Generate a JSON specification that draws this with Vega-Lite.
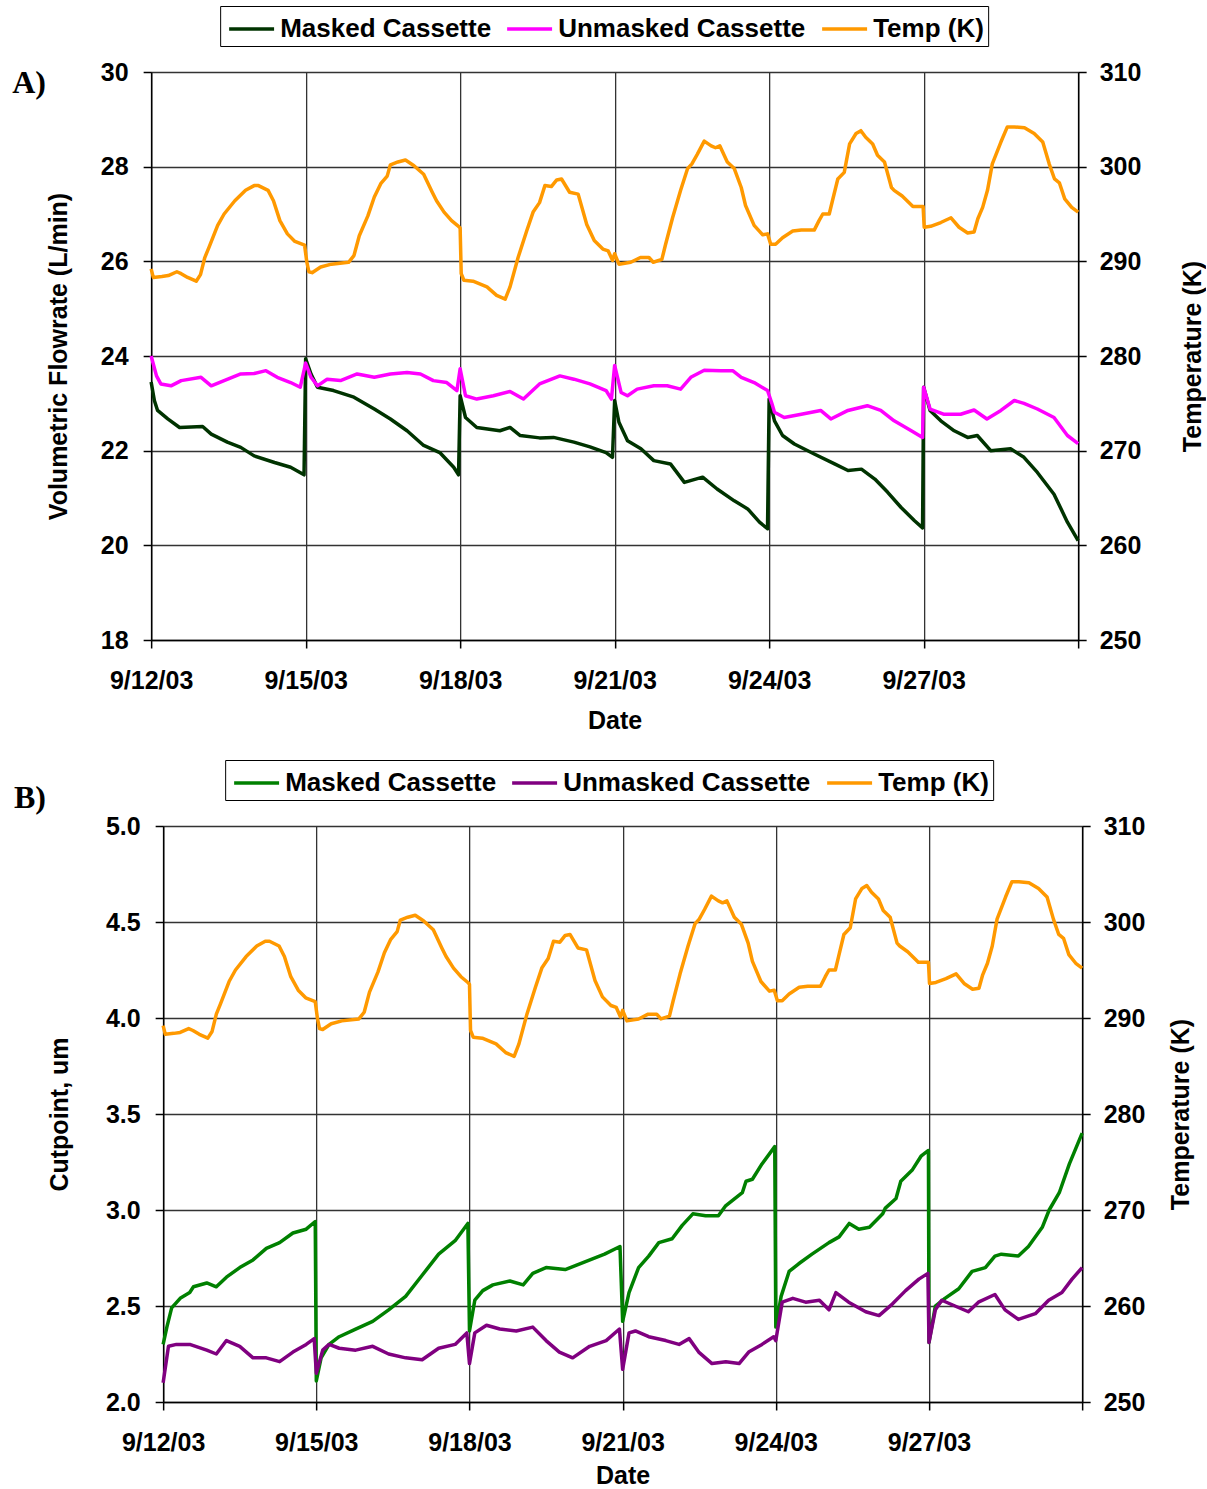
{
  "$schema": "https://vega.github.io/schema/vega-lite/v6.json",
  "padding": {"left": 12, "top": 5, "right": 0, "bottom": 0},
  "background": "white",
  "columns": 1,
  "center": true,
  "spacing": 26,
  "resolve": {"scale": {"color": "independent"}},
  "config": {
    "view": {"stroke": null},
    "axis": {
      "labelFont": "Liberation Sans", "labelFontWeight": "bold", "labelFontSize": 25, "labelColor": "black",
      "titleFont": "Liberation Sans", "titleFontWeight": "bold", "titleFontSize": 25, "titleColor": "black",
      "domainColor": "black", "domainWidth": 1.5, "tickColor": "black", "tickWidth": 1.5, "tickSize": 8,
      "gridColor": "#333333", "gridWidth": 1.3, "gridOpacity": 1
    },
    "legend": {
      "orient": "none", "direction": "horizontal", "title": null,
      "symbolType": "M-0.824,0H1.82", "symbolSize": 1156, "symbolStrokeWidth": 3.5,
      "labelFont": "Liberation Sans", "labelFontWeight": "bold", "labelFontSize": 26, "labelColor": "black", "labelLimit": 500,
      "strokeColor": "black", "fillColor": "white", "padding": 4, "columnPadding": 11, "labelOffset": 18
    },
    "line": {"strokeWidth": 3.5, "strokeJoin": "round"}
  },
  "datasets": {
    "temp": [
      {"s":"Temp (K)","t":"2003-09-12T00:00","v":289.2},{"s":"Temp (K)","t":"2003-09-12T01:00","v":288.3},{"s":"Temp (K)","t":"2003-09-12T05:00","v":288.4},{"s":"Temp (K)","t":"2003-09-12T08:00","v":288.5},{"s":"Temp (K)","t":"2003-09-12T12:00","v":288.9},{"s":"Temp (K)","t":"2003-09-12T14:00","v":288.7},{"s":"Temp (K)","t":"2003-09-12T17:00","v":288.3},{"s":"Temp (K)","t":"2003-09-12T21:00","v":287.9},{"s":"Temp (K)","t":"2003-09-12T23:00","v":288.6},
      {"s":"Temp (K)","t":"2003-09-13T01:00","v":290.4},{"s":"Temp (K)","t":"2003-09-13T03:00","v":291.5},{"s":"Temp (K)","t":"2003-09-13T07:00","v":293.8},{"s":"Temp (K)","t":"2003-09-13T10:00","v":295.0},{"s":"Temp (K)","t":"2003-09-13T15:00","v":296.4},{"s":"Temp (K)","t":"2003-09-13T20:00","v":297.5},
      {"s":"Temp (K)","t":"2003-09-14T00:00","v":298.0},{"s":"Temp (K)","t":"2003-09-14T02:00","v":298.0},{"s":"Temp (K)","t":"2003-09-14T06:30","v":297.5},{"s":"Temp (K)","t":"2003-09-14T09:00","v":296.4},{"s":"Temp (K)","t":"2003-09-14T12:00","v":294.3},{"s":"Temp (K)","t":"2003-09-14T15:30","v":292.9},{"s":"Temp (K)","t":"2003-09-14T19:00","v":292.1},{"s":"Temp (K)","t":"2003-09-14T23:30","v":291.7},
      {"s":"Temp (K)","t":"2003-09-15T00:30","v":290.0},{"s":"Temp (K)","t":"2003-09-15T01:30","v":288.9},{"s":"Temp (K)","t":"2003-09-15T03:00","v":288.8},{"s":"Temp (K)","t":"2003-09-15T07:00","v":289.4},{"s":"Temp (K)","t":"2003-09-15T12:00","v":289.7},{"s":"Temp (K)","t":"2003-09-15T20:00","v":289.9},{"s":"Temp (K)","t":"2003-09-15T22:30","v":290.6},
      {"s":"Temp (K)","t":"2003-09-16T01:00","v":292.7},{"s":"Temp (K)","t":"2003-09-16T05:00","v":294.8},{"s":"Temp (K)","t":"2003-09-16T08:00","v":296.8},{"s":"Temp (K)","t":"2003-09-16T11:00","v":298.2},{"s":"Temp (K)","t":"2003-09-16T14:00","v":299.0},{"s":"Temp (K)","t":"2003-09-16T15:30","v":300.2},{"s":"Temp (K)","t":"2003-09-16T19:00","v":300.5},{"s":"Temp (K)","t":"2003-09-16T22:30","v":300.7},
      {"s":"Temp (K)","t":"2003-09-17T02:30","v":300.1},{"s":"Temp (K)","t":"2003-09-17T07:00","v":299.2},{"s":"Temp (K)","t":"2003-09-17T11:00","v":297.3},{"s":"Temp (K)","t":"2003-09-17T13:00","v":296.4},{"s":"Temp (K)","t":"2003-09-17T16:30","v":295.2},{"s":"Temp (K)","t":"2003-09-17T20:00","v":294.3},{"s":"Temp (K)","t":"2003-09-17T23:15","v":293.7},
      {"s":"Temp (K)","t":"2003-09-18T00:00","v":293.5},{"s":"Temp (K)","t":"2003-09-18T00:30","v":288.7},{"s":"Temp (K)","t":"2003-09-18T01:45","v":288.0},{"s":"Temp (K)","t":"2003-09-18T06:00","v":287.9},{"s":"Temp (K)","t":"2003-09-18T12:30","v":287.3},{"s":"Temp (K)","t":"2003-09-18T17:00","v":286.4},{"s":"Temp (K)","t":"2003-09-18T21:00","v":286.0},{"s":"Temp (K)","t":"2003-09-18T23:15","v":287.3},
      {"s":"Temp (K)","t":"2003-09-19T03:00","v":290.4},{"s":"Temp (K)","t":"2003-09-19T07:00","v":293.2},{"s":"Temp (K)","t":"2003-09-19T10:00","v":295.2},{"s":"Temp (K)","t":"2003-09-19T13:00","v":296.2},{"s":"Temp (K)","t":"2003-09-19T15:30","v":298.0},{"s":"Temp (K)","t":"2003-09-19T18:30","v":297.9},{"s":"Temp (K)","t":"2003-09-19T21:00","v":298.6},{"s":"Temp (K)","t":"2003-09-19T23:15","v":298.7},
      {"s":"Temp (K)","t":"2003-09-20T03:00","v":297.3},{"s":"Temp (K)","t":"2003-09-20T07:00","v":297.1},{"s":"Temp (K)","t":"2003-09-20T11:00","v":293.9},{"s":"Temp (K)","t":"2003-09-20T14:30","v":292.2},{"s":"Temp (K)","t":"2003-09-20T18:30","v":291.3},{"s":"Temp (K)","t":"2003-09-20T21:00","v":291.1},{"s":"Temp (K)","t":"2003-09-20T23:00","v":290.1},
      {"s":"Temp (K)","t":"2003-09-21T00:00","v":290.8},{"s":"Temp (K)","t":"2003-09-21T02:00","v":289.7},{"s":"Temp (K)","t":"2003-09-21T07:30","v":289.9},{"s":"Temp (K)","t":"2003-09-21T12:00","v":290.4},{"s":"Temp (K)","t":"2003-09-21T16:00","v":290.4},{"s":"Temp (K)","t":"2003-09-21T18:00","v":289.9},{"s":"Temp (K)","t":"2003-09-21T22:00","v":290.2},{"s":"Temp (K)","t":"2003-09-21T23:45","v":291.8},
      {"s":"Temp (K)","t":"2003-09-22T03:00","v":294.6},{"s":"Temp (K)","t":"2003-09-22T06:45","v":297.5},{"s":"Temp (K)","t":"2003-09-22T10:00","v":299.8},{"s":"Temp (K)","t":"2003-09-22T12:00","v":300.3},{"s":"Temp (K)","t":"2003-09-22T14:30","v":301.3},{"s":"Temp (K)","t":"2003-09-22T17:45","v":302.7},{"s":"Temp (K)","t":"2003-09-22T21:00","v":302.2},{"s":"Temp (K)","t":"2003-09-22T23:00","v":302.0},
      {"s":"Temp (K)","t":"2003-09-23T01:00","v":302.2},{"s":"Temp (K)","t":"2003-09-23T04:30","v":300.5},{"s":"Temp (K)","t":"2003-09-23T07:45","v":299.8},{"s":"Temp (K)","t":"2003-09-23T11:00","v":297.8},{"s":"Temp (K)","t":"2003-09-23T13:00","v":295.9},{"s":"Temp (K)","t":"2003-09-23T17:00","v":293.8},{"s":"Temp (K)","t":"2003-09-23T21:00","v":292.8},{"s":"Temp (K)","t":"2003-09-23T23:15","v":292.9},
      {"s":"Temp (K)","t":"2003-09-24T00:45","v":291.8},{"s":"Temp (K)","t":"2003-09-24T03:00","v":291.8},{"s":"Temp (K)","t":"2003-09-24T06:15","v":292.5},{"s":"Temp (K)","t":"2003-09-24T11:00","v":293.2},{"s":"Temp (K)","t":"2003-09-24T15:00","v":293.3},{"s":"Temp (K)","t":"2003-09-24T21:00","v":293.3},{"s":"Temp (K)","t":"2003-09-24T23:15","v":294.3},
      {"s":"Temp (K)","t":"2003-09-25T01:00","v":295.0},{"s":"Temp (K)","t":"2003-09-25T04:00","v":295.0},{"s":"Temp (K)","t":"2003-09-25T05:30","v":296.4},{"s":"Temp (K)","t":"2003-09-25T08:00","v":298.7},{"s":"Temp (K)","t":"2003-09-25T11:00","v":299.4},{"s":"Temp (K)","t":"2003-09-25T13:30","v":302.4},{"s":"Temp (K)","t":"2003-09-25T16:30","v":303.5},{"s":"Temp (K)","t":"2003-09-25T18:45","v":303.8},{"s":"Temp (K)","t":"2003-09-25T21:00","v":303.1},
      {"s":"Temp (K)","t":"2003-09-26T00:15","v":302.4},{"s":"Temp (K)","t":"2003-09-26T02:30","v":301.2},{"s":"Temp (K)","t":"2003-09-26T05:45","v":300.5},{"s":"Temp (K)","t":"2003-09-26T09:00","v":297.8},{"s":"Temp (K)","t":"2003-09-26T10:15","v":297.5},{"s":"Temp (K)","t":"2003-09-26T14:00","v":296.9},{"s":"Temp (K)","t":"2003-09-26T19:00","v":295.8},{"s":"Temp (K)","t":"2003-09-26T23:45","v":295.8},
      {"s":"Temp (K)","t":"2003-09-27T00:15","v":293.6},{"s":"Temp (K)","t":"2003-09-27T03:15","v":293.7},{"s":"Temp (K)","t":"2003-09-27T08:00","v":294.1},{"s":"Temp (K)","t":"2003-09-27T12:45","v":294.6},{"s":"Temp (K)","t":"2003-09-27T16:30","v":293.6},{"s":"Temp (K)","t":"2003-09-27T20:30","v":293.0},{"s":"Temp (K)","t":"2003-09-27T23:30","v":293.1},
      {"s":"Temp (K)","t":"2003-09-28T01:15","v":294.5},{"s":"Temp (K)","t":"2003-09-28T03:30","v":295.7},{"s":"Temp (K)","t":"2003-09-28T05:45","v":297.5},{"s":"Temp (K)","t":"2003-09-28T08:00","v":300.3},{"s":"Temp (K)","t":"2003-09-28T12:00","v":302.6},{"s":"Temp (K)","t":"2003-09-28T15:00","v":304.2},{"s":"Temp (K)","t":"2003-09-28T18:15","v":304.2},{"s":"Temp (K)","t":"2003-09-28T23:00","v":304.1},
      {"s":"Temp (K)","t":"2003-09-29T03:30","v":303.5},{"s":"Temp (K)","t":"2003-09-29T07:30","v":302.6},{"s":"Temp (K)","t":"2003-09-29T10:30","v":300.3},{"s":"Temp (K)","t":"2003-09-29T13:00","v":298.7},{"s":"Temp (K)","t":"2003-09-29T15:15","v":298.3},{"s":"Temp (K)","t":"2003-09-29T17:45","v":296.6},{"s":"Temp (K)","t":"2003-09-29T21:00","v":295.7},{"s":"Temp (K)","t":"2003-09-30T00:00","v":295.2}
    ],
    "flow": [
      {"s":"Masked Cassette","t":"2003-09-12T00:00","v":23.45},{"s":"Masked Cassette","t":"2003-09-12T01:30","v":23.06},{"s":"Masked Cassette","t":"2003-09-12T03:00","v":22.85},{"s":"Masked Cassette","t":"2003-09-12T07:45","v":22.67},{"s":"Masked Cassette","t":"2003-09-12T13:15","v":22.49},
      {"s":"Masked Cassette","t":"2003-09-13T00:00","v":22.51},{"s":"Masked Cassette","t":"2003-09-13T04:00","v":22.35},{"s":"Masked Cassette","t":"2003-09-13T11:30","v":22.18},{"s":"Masked Cassette","t":"2003-09-13T17:45","v":22.07},
      {"s":"Masked Cassette","t":"2003-09-14T00:00","v":21.89},{"s":"Masked Cassette","t":"2003-09-14T09:30","v":21.75},{"s":"Masked Cassette","t":"2003-09-14T17:00","v":21.65},{"s":"Masked Cassette","t":"2003-09-14T23:15","v":21.49},
      {"s":"Masked Cassette","t":"2003-09-15T00:00","v":23.94},{"s":"Masked Cassette","t":"2003-09-15T02:30","v":23.62},{"s":"Masked Cassette","t":"2003-09-15T05:30","v":23.34},{"s":"Masked Cassette","t":"2003-09-15T13:00","v":23.27},{"s":"Masked Cassette","t":"2003-09-15T22:30","v":23.13},
      {"s":"Masked Cassette","t":"2003-09-16T08:00","v":22.88},{"s":"Masked Cassette","t":"2003-09-16T15:30","v":22.67},{"s":"Masked Cassette","t":"2003-09-16T23:15","v":22.42},
      {"s":"Masked Cassette","t":"2003-09-17T07:00","v":22.11},{"s":"Masked Cassette","t":"2003-09-17T14:30","v":21.96},{"s":"Masked Cassette","t":"2003-09-17T21:00","v":21.65},{"s":"Masked Cassette","t":"2003-09-17T23:15","v":21.49},
      {"s":"Masked Cassette","t":"2003-09-18T00:00","v":23.16},{"s":"Masked Cassette","t":"2003-09-18T02:30","v":22.70},{"s":"Masked Cassette","t":"2003-09-18T07:45","v":22.49},{"s":"Masked Cassette","t":"2003-09-18T18:30","v":22.42},{"s":"Masked Cassette","t":"2003-09-18T23:15","v":22.49},
      {"s":"Masked Cassette","t":"2003-09-19T04:00","v":22.32},{"s":"Masked Cassette","t":"2003-09-19T13:00","v":22.27},{"s":"Masked Cassette","t":"2003-09-19T19:30","v":22.28},
      {"s":"Masked Cassette","t":"2003-09-20T05:00","v":22.18},{"s":"Masked Cassette","t":"2003-09-20T12:30","v":22.08},{"s":"Masked Cassette","t":"2003-09-20T20:00","v":21.96},{"s":"Masked Cassette","t":"2003-09-20T23:00","v":21.86},
      {"s":"Masked Cassette","t":"2003-09-21T00:00","v":23.06},{"s":"Masked Cassette","t":"2003-09-21T02:00","v":22.60},{"s":"Masked Cassette","t":"2003-09-21T06:00","v":22.21},{"s":"Masked Cassette","t":"2003-09-21T12:15","v":22.04},{"s":"Masked Cassette","t":"2003-09-21T18:15","v":21.79},
      {"s":"Masked Cassette","t":"2003-09-22T02:00","v":21.72},{"s":"Masked Cassette","t":"2003-09-22T08:30","v":21.33},{"s":"Masked Cassette","t":"2003-09-22T17:00","v":21.44},{"s":"Masked Cassette","t":"2003-09-22T23:45","v":21.19},
      {"s":"Masked Cassette","t":"2003-09-23T07:45","v":20.94},{"s":"Masked Cassette","t":"2003-09-23T14:00","v":20.77},{"s":"Masked Cassette","t":"2003-09-23T19:30","v":20.49},{"s":"Masked Cassette","t":"2003-09-23T23:15","v":20.35},
      {"s":"Masked Cassette","t":"2003-09-24T00:00","v":23.09},{"s":"Masked Cassette","t":"2003-09-24T02:30","v":22.63},{"s":"Masked Cassette","t":"2003-09-24T06:15","v":22.32},{"s":"Masked Cassette","t":"2003-09-24T11:45","v":22.14},{"s":"Masked Cassette","t":"2003-09-24T21:00","v":21.93},
      {"s":"Masked Cassette","t":"2003-09-25T06:30","v":21.72},{"s":"Masked Cassette","t":"2003-09-25T12:45","v":21.58},{"s":"Masked Cassette","t":"2003-09-25T19:00","v":21.61},
      {"s":"Masked Cassette","t":"2003-09-26T01:15","v":21.40},{"s":"Masked Cassette","t":"2003-09-26T07:15","v":21.12},{"s":"Masked Cassette","t":"2003-09-26T13:30","v":20.80},{"s":"Masked Cassette","t":"2003-09-26T19:45","v":20.52},{"s":"Masked Cassette","t":"2003-09-26T23:30","v":20.37},
      {"s":"Masked Cassette","t":"2003-09-27T00:00","v":23.34},{"s":"Masked Cassette","t":"2003-09-27T03:00","v":22.85},{"s":"Masked Cassette","t":"2003-09-27T08:00","v":22.63},{"s":"Masked Cassette","t":"2003-09-27T14:15","v":22.42},{"s":"Masked Cassette","t":"2003-09-27T20:30","v":22.28},
      {"s":"Masked Cassette","t":"2003-09-28T01:00","v":22.32},{"s":"Masked Cassette","t":"2003-09-28T07:15","v":22.00},{"s":"Masked Cassette","t":"2003-09-28T16:30","v":22.04},{"s":"Masked Cassette","t":"2003-09-28T22:45","v":21.86},
      {"s":"Masked Cassette","t":"2003-09-29T05:00","v":21.54},{"s":"Masked Cassette","t":"2003-09-29T12:45","v":21.08},{"s":"Masked Cassette","t":"2003-09-29T19:00","v":20.49},{"s":"Masked Cassette","t":"2003-09-30T00:00","v":20.10},

      {"s":"Unmasked Cassette","t":"2003-09-12T00:00","v":24.0},{"s":"Unmasked Cassette","t":"2003-09-12T02:30","v":23.58},{"s":"Unmasked Cassette","t":"2003-09-12T04:30","v":23.41},{"s":"Unmasked Cassette","t":"2003-09-12T09:15","v":23.37},{"s":"Unmasked Cassette","t":"2003-09-12T14:00","v":23.48},{"s":"Unmasked Cassette","t":"2003-09-12T23:15","v":23.55},
      {"s":"Unmasked Cassette","t":"2003-09-13T04:00","v":23.37},{"s":"Unmasked Cassette","t":"2003-09-13T10:00","v":23.48},{"s":"Unmasked Cassette","t":"2003-09-13T17:45","v":23.62},
      {"s":"Unmasked Cassette","t":"2003-09-14T00:00","v":23.63},{"s":"Unmasked Cassette","t":"2003-09-14T05:30","v":23.69},{"s":"Unmasked Cassette","t":"2003-09-14T10:45","v":23.55},{"s":"Unmasked Cassette","t":"2003-09-14T17:00","v":23.44},{"s":"Unmasked Cassette","t":"2003-09-14T21:30","v":23.34},
      {"s":"Unmasked Cassette","t":"2003-09-15T00:00","v":23.85},{"s":"Unmasked Cassette","t":"2003-09-15T02:30","v":23.55},{"s":"Unmasked Cassette","t":"2003-09-15T05:30","v":23.37},{"s":"Unmasked Cassette","t":"2003-09-15T10:00","v":23.51},{"s":"Unmasked Cassette","t":"2003-09-15T16:15","v":23.48},
      {"s":"Unmasked Cassette","t":"2003-09-16T00:00","v":23.62},{"s":"Unmasked Cassette","t":"2003-09-16T08:00","v":23.55},{"s":"Unmasked Cassette","t":"2003-09-16T15:30","v":23.62},{"s":"Unmasked Cassette","t":"2003-09-16T23:15","v":23.65},
      {"s":"Unmasked Cassette","t":"2003-09-17T05:30","v":23.62},{"s":"Unmasked Cassette","t":"2003-09-17T11:30","v":23.48},{"s":"Unmasked Cassette","t":"2003-09-17T17:45","v":23.44},{"s":"Unmasked Cassette","t":"2003-09-17T22:30","v":23.27},
      {"s":"Unmasked Cassette","t":"2003-09-18T00:00","v":23.73},{"s":"Unmasked Cassette","t":"2003-09-18T02:30","v":23.16},{"s":"Unmasked Cassette","t":"2003-09-18T07:45","v":23.09},{"s":"Unmasked Cassette","t":"2003-09-18T15:30","v":23.16},{"s":"Unmasked Cassette","t":"2003-09-18T23:15","v":23.25},
      {"s":"Unmasked Cassette","t":"2003-09-19T05:30","v":23.09},{"s":"Unmasked Cassette","t":"2003-09-19T13:00","v":23.41},{"s":"Unmasked Cassette","t":"2003-09-19T22:30","v":23.58},
      {"s":"Unmasked Cassette","t":"2003-09-20T05:00","v":23.51},{"s":"Unmasked Cassette","t":"2003-09-20T12:30","v":23.41},{"s":"Unmasked Cassette","t":"2003-09-20T20:00","v":23.27},{"s":"Unmasked Cassette","t":"2003-09-20T22:30","v":23.09},
      {"s":"Unmasked Cassette","t":"2003-09-21T00:00","v":23.80},{"s":"Unmasked Cassette","t":"2003-09-21T03:00","v":23.23},{"s":"Unmasked Cassette","t":"2003-09-21T06:00","v":23.16},{"s":"Unmasked Cassette","t":"2003-09-21T10:30","v":23.30},{"s":"Unmasked Cassette","t":"2003-09-21T18:15","v":23.37},
      {"s":"Unmasked Cassette","t":"2003-09-22T00:30","v":23.37},{"s":"Unmasked Cassette","t":"2003-09-22T06:45","v":23.30},{"s":"Unmasked Cassette","t":"2003-09-22T11:30","v":23.55},{"s":"Unmasked Cassette","t":"2003-09-22T17:45","v":23.70},
      {"s":"Unmasked Cassette","t":"2003-09-23T01:30","v":23.69},{"s":"Unmasked Cassette","t":"2003-09-23T07:00","v":23.69},{"s":"Unmasked Cassette","t":"2003-09-23T11:00","v":23.55},{"s":"Unmasked Cassette","t":"2003-09-23T17:00","v":23.44},{"s":"Unmasked Cassette","t":"2003-09-23T23:15","v":23.27},
      {"s":"Unmasked Cassette","t":"2003-09-24T01:15","v":23.0},{"s":"Unmasked Cassette","t":"2003-09-24T02:30","v":22.81},{"s":"Unmasked Cassette","t":"2003-09-24T07:00","v":22.70},{"s":"Unmasked Cassette","t":"2003-09-24T15:00","v":22.77},
      {"s":"Unmasked Cassette","t":"2003-09-25T00:00","v":22.85},{"s":"Unmasked Cassette","t":"2003-09-25T04:45","v":22.67},{"s":"Unmasked Cassette","t":"2003-09-25T12:45","v":22.85},{"s":"Unmasked Cassette","t":"2003-09-25T21:45","v":22.95},
      {"s":"Unmasked Cassette","t":"2003-09-26T04:00","v":22.85},{"s":"Unmasked Cassette","t":"2003-09-26T10:15","v":22.63},{"s":"Unmasked Cassette","t":"2003-09-26T18:15","v":22.42},{"s":"Unmasked Cassette","t":"2003-09-26T23:30","v":22.28},
      {"s":"Unmasked Cassette","t":"2003-09-27T00:00","v":23.34},{"s":"Unmasked Cassette","t":"2003-09-27T03:00","v":22.88},{"s":"Unmasked Cassette","t":"2003-09-27T09:15","v":22.77},{"s":"Unmasked Cassette","t":"2003-09-27T17:15","v":22.77},{"s":"Unmasked Cassette","t":"2003-09-27T23:30","v":22.86},
      {"s":"Unmasked Cassette","t":"2003-09-28T05:30","v":22.67},{"s":"Unmasked Cassette","t":"2003-09-28T12:00","v":22.85},{"s":"Unmasked Cassette","t":"2003-09-28T18:15","v":23.06},{"s":"Unmasked Cassette","t":"2003-09-28T22:45","v":23.0},
      {"s":"Unmasked Cassette","t":"2003-09-29T05:00","v":22.88},{"s":"Unmasked Cassette","t":"2003-09-29T12:45","v":22.70},{"s":"Unmasked Cassette","t":"2003-09-29T19:00","v":22.32},{"s":"Unmasked Cassette","t":"2003-09-30T00:00","v":22.15}
    ],
    "cut": [
      {"s":"Masked Cassette","t":"2003-09-12T00:00","v":2.30},{"s":"Masked Cassette","t":"2003-09-12T01:45","v":2.39},{"s":"Masked Cassette","t":"2003-09-12T04:00","v":2.49},{"s":"Masked Cassette","t":"2003-09-12T08:00","v":2.54},{"s":"Masked Cassette","t":"2003-09-12T12:30","v":2.57},{"s":"Masked Cassette","t":"2003-09-12T14:15","v":2.60},{"s":"Masked Cassette","t":"2003-09-12T20:30","v":2.62},
      {"s":"Masked Cassette","t":"2003-09-13T01:00","v":2.60},{"s":"Masked Cassette","t":"2003-09-13T05:45","v":2.65},{"s":"Masked Cassette","t":"2003-09-13T12:00","v":2.70},{"s":"Masked Cassette","t":"2003-09-13T18:15","v":2.74},
      {"s":"Masked Cassette","t":"2003-09-14T00:30","v":2.80},{"s":"Masked Cassette","t":"2003-09-14T06:45","v":2.83},{"s":"Masked Cassette","t":"2003-09-14T13:00","v":2.88},{"s":"Masked Cassette","t":"2003-09-14T19:15","v":2.90},{"s":"Masked Cassette","t":"2003-09-14T23:30","v":2.94},
      {"s":"Masked Cassette","t":"2003-09-15T00:00","v":2.11},{"s":"Masked Cassette","t":"2003-09-15T02:15","v":2.23},{"s":"Masked Cassette","t":"2003-09-15T06:00","v":2.30},{"s":"Masked Cassette","t":"2003-09-15T10:45","v":2.34},{"s":"Masked Cassette","t":"2003-09-15T18:30","v":2.38},
      {"s":"Masked Cassette","t":"2003-09-16T02:30","v":2.42},{"s":"Masked Cassette","t":"2003-09-16T10:00","v":2.48},{"s":"Masked Cassette","t":"2003-09-16T18:00","v":2.55},
      {"s":"Masked Cassette","t":"2003-09-17T01:45","v":2.66},{"s":"Masked Cassette","t":"2003-09-17T09:30","v":2.77},{"s":"Masked Cassette","t":"2003-09-17T17:15","v":2.84},{"s":"Masked Cassette","t":"2003-09-17T21:15","v":2.90},{"s":"Masked Cassette","t":"2003-09-17T23:15","v":2.93},
      {"s":"Masked Cassette","t":"2003-09-18T00:00","v":2.37},{"s":"Masked Cassette","t":"2003-09-18T02:30","v":2.53},{"s":"Masked Cassette","t":"2003-09-18T06:15","v":2.58},{"s":"Masked Cassette","t":"2003-09-18T11:00","v":2.61},{"s":"Masked Cassette","t":"2003-09-18T19:00","v":2.63},
      {"s":"Masked Cassette","t":"2003-09-19T01:15","v":2.61},{"s":"Masked Cassette","t":"2003-09-19T05:45","v":2.67},{"s":"Masked Cassette","t":"2003-09-19T12:00","v":2.70},{"s":"Masked Cassette","t":"2003-09-19T21:00","v":2.69},
      {"s":"Masked Cassette","t":"2003-09-20T06:15","v":2.73},{"s":"Masked Cassette","t":"2003-09-20T15:30","v":2.77},{"s":"Masked Cassette","t":"2003-09-20T22:45","v":2.81},
      {"s":"Masked Cassette","t":"2003-09-21T00:00","v":2.42},{"s":"Masked Cassette","t":"2003-09-21T03:00","v":2.57},{"s":"Masked Cassette","t":"2003-09-21T07:30","v":2.70},{"s":"Masked Cassette","t":"2003-09-21T12:15","v":2.76},{"s":"Masked Cassette","t":"2003-09-21T17:00","v":2.83},{"s":"Masked Cassette","t":"2003-09-21T23:15","v":2.85},
      {"s":"Masked Cassette","t":"2003-09-22T04:00","v":2.92},{"s":"Masked Cassette","t":"2003-09-22T09:00","v":2.98},{"s":"Masked Cassette","t":"2003-09-22T15:00","v":2.97},{"s":"Masked Cassette","t":"2003-09-22T21:00","v":2.97},
      {"s":"Masked Cassette","t":"2003-09-23T00:15","v":3.02},{"s":"Masked Cassette","t":"2003-09-23T08:15","v":3.09},{"s":"Masked Cassette","t":"2003-09-23T10:00","v":3.15},{"s":"Masked Cassette","t":"2003-09-23T13:00","v":3.16},{"s":"Masked Cassette","t":"2003-09-23T17:30","v":3.24},{"s":"Masked Cassette","t":"2003-09-23T23:30","v":3.33},
      {"s":"Masked Cassette","t":"2003-09-24T00:00","v":2.39},{"s":"Masked Cassette","t":"2003-09-24T02:30","v":2.55},{"s":"Masked Cassette","t":"2003-09-24T06:15","v":2.68},{"s":"Masked Cassette","t":"2003-09-24T10:45","v":2.72},{"s":"Masked Cassette","t":"2003-09-24T17:00","v":2.77},
      {"s":"Masked Cassette","t":"2003-09-25T01:00","v":2.83},{"s":"Masked Cassette","t":"2003-09-25T05:45","v":2.86},{"s":"Masked Cassette","t":"2003-09-25T10:30","v":2.93},{"s":"Masked Cassette","t":"2003-09-25T15:00","v":2.90},{"s":"Masked Cassette","t":"2003-09-25T20:00","v":2.91},
      {"s":"Masked Cassette","t":"2003-09-26T02:15","v":2.98},{"s":"Masked Cassette","t":"2003-09-26T03:30","v":3.01},{"s":"Masked Cassette","t":"2003-09-26T08:30","v":3.06},{"s":"Masked Cassette","t":"2003-09-26T10:45","v":3.15},{"s":"Masked Cassette","t":"2003-09-26T16:15","v":3.21},{"s":"Masked Cassette","t":"2003-09-26T20:15","v":3.28},{"s":"Masked Cassette","t":"2003-09-26T23:45","v":3.31},
      {"s":"Masked Cassette","t":"2003-09-27T00:00","v":2.31},{"s":"Masked Cassette","t":"2003-09-27T03:00","v":2.50},{"s":"Masked Cassette","t":"2003-09-27T07:30","v":2.54},{"s":"Masked Cassette","t":"2003-09-27T14:00","v":2.59},{"s":"Masked Cassette","t":"2003-09-27T20:15","v":2.68},
      {"s":"Masked Cassette","t":"2003-09-28T02:30","v":2.70},{"s":"Masked Cassette","t":"2003-09-28T07:00","v":2.76},{"s":"Masked Cassette","t":"2003-09-28T10:00","v":2.77},{"s":"Masked Cassette","t":"2003-09-28T18:00","v":2.76},{"s":"Masked Cassette","t":"2003-09-28T22:45","v":2.81},
      {"s":"Masked Cassette","t":"2003-09-29T05:15","v":2.91},{"s":"Masked Cassette","t":"2003-09-29T08:30","v":3.0},{"s":"Masked Cassette","t":"2003-09-29T13:15","v":3.09},{"s":"Masked Cassette","t":"2003-09-29T18:00","v":3.24},{"s":"Masked Cassette","t":"2003-09-30T00:00","v":3.40},

      {"s":"Unmasked Cassette","t":"2003-09-12T00:00","v":2.10},{"s":"Unmasked Cassette","t":"2003-09-12T02:30","v":2.29},{"s":"Unmasked Cassette","t":"2003-09-12T06:15","v":2.30},{"s":"Unmasked Cassette","t":"2003-09-12T12:30","v":2.30},{"s":"Unmasked Cassette","t":"2003-09-12T20:30","v":2.27},
      {"s":"Unmasked Cassette","t":"2003-09-13T01:00","v":2.25},{"s":"Unmasked Cassette","t":"2003-09-13T05:45","v":2.32},{"s":"Unmasked Cassette","t":"2003-09-13T12:00","v":2.29},{"s":"Unmasked Cassette","t":"2003-09-13T18:15","v":2.23},
      {"s":"Unmasked Cassette","t":"2003-09-14T00:30","v":2.23},{"s":"Unmasked Cassette","t":"2003-09-14T06:45","v":2.21},{"s":"Unmasked Cassette","t":"2003-09-14T13:00","v":2.26},{"s":"Unmasked Cassette","t":"2003-09-14T19:15","v":2.30},{"s":"Unmasked Cassette","t":"2003-09-14T23:00","v":2.33},
      {"s":"Unmasked Cassette","t":"2003-09-15T00:00","v":2.15},{"s":"Unmasked Cassette","t":"2003-09-15T03:00","v":2.27},{"s":"Unmasked Cassette","t":"2003-09-15T06:00","v":2.30},{"s":"Unmasked Cassette","t":"2003-09-15T10:45","v":2.28},{"s":"Unmasked Cassette","t":"2003-09-15T18:30","v":2.27},
      {"s":"Unmasked Cassette","t":"2003-09-16T02:30","v":2.29},{"s":"Unmasked Cassette","t":"2003-09-16T10:00","v":2.25},{"s":"Unmasked Cassette","t":"2003-09-16T18:00","v":2.23},
      {"s":"Unmasked Cassette","t":"2003-09-17T01:45","v":2.22},{"s":"Unmasked Cassette","t":"2003-09-17T09:30","v":2.28},{"s":"Unmasked Cassette","t":"2003-09-17T17:15","v":2.30},{"s":"Unmasked Cassette","t":"2003-09-17T22:45","v":2.36},
      {"s":"Unmasked Cassette","t":"2003-09-18T00:00","v":2.20},{"s":"Unmasked Cassette","t":"2003-09-18T02:30","v":2.36},{"s":"Unmasked Cassette","t":"2003-09-18T08:00","v":2.40},{"s":"Unmasked Cassette","t":"2003-09-18T14:15","v":2.38},{"s":"Unmasked Cassette","t":"2003-09-18T22:00","v":2.37},
      {"s":"Unmasked Cassette","t":"2003-09-19T05:45","v":2.39},{"s":"Unmasked Cassette","t":"2003-09-19T12:00","v":2.32},{"s":"Unmasked Cassette","t":"2003-09-19T18:15","v":2.26},
      {"s":"Unmasked Cassette","t":"2003-09-20T00:30","v":2.23},{"s":"Unmasked Cassette","t":"2003-09-20T08:30","v":2.29},{"s":"Unmasked Cassette","t":"2003-09-20T16:15","v":2.32},{"s":"Unmasked Cassette","t":"2003-09-20T22:30","v":2.38},
      {"s":"Unmasked Cassette","t":"2003-09-21T00:00","v":2.17},{"s":"Unmasked Cassette","t":"2003-09-21T03:00","v":2.36},{"s":"Unmasked Cassette","t":"2003-09-21T06:00","v":2.37},{"s":"Unmasked Cassette","t":"2003-09-21T12:15","v":2.34},{"s":"Unmasked Cassette","t":"2003-09-21T20:15","v":2.32},
      {"s":"Unmasked Cassette","t":"2003-09-22T02:30","v":2.30},{"s":"Unmasked Cassette","t":"2003-09-22T07:15","v":2.33},{"s":"Unmasked Cassette","t":"2003-09-22T11:45","v":2.26},{"s":"Unmasked Cassette","t":"2003-09-22T18:00","v":2.20},
      {"s":"Unmasked Cassette","t":"2003-09-23T00:30","v":2.21},{"s":"Unmasked Cassette","t":"2003-09-23T06:45","v":2.20},{"s":"Unmasked Cassette","t":"2003-09-23T11:15","v":2.26},{"s":"Unmasked Cassette","t":"2003-09-23T17:30","v":2.30},{"s":"Unmasked Cassette","t":"2003-09-23T23:00","v":2.34},
      {"s":"Unmasked Cassette","t":"2003-09-24T00:00","v":2.32},{"s":"Unmasked Cassette","t":"2003-09-24T03:00","v":2.52},{"s":"Unmasked Cassette","t":"2003-09-24T08:00","v":2.54},{"s":"Unmasked Cassette","t":"2003-09-24T14:00","v":2.52},{"s":"Unmasked Cassette","t":"2003-09-24T20:30","v":2.53},
      {"s":"Unmasked Cassette","t":"2003-09-25T01:00","v":2.48},{"s":"Unmasked Cassette","t":"2003-09-25T04:15","v":2.57},{"s":"Unmasked Cassette","t":"2003-09-25T10:15","v":2.52},{"s":"Unmasked Cassette","t":"2003-09-25T18:15","v":2.47},
      {"s":"Unmasked Cassette","t":"2003-09-26T00:30","v":2.45},{"s":"Unmasked Cassette","t":"2003-09-26T06:45","v":2.51},{"s":"Unmasked Cassette","t":"2003-09-26T13:00","v":2.58},{"s":"Unmasked Cassette","t":"2003-09-26T19:15","v":2.64},{"s":"Unmasked Cassette","t":"2003-09-26T23:30","v":2.67},
      {"s":"Unmasked Cassette","t":"2003-09-27T00:00","v":2.31},{"s":"Unmasked Cassette","t":"2003-09-27T03:00","v":2.48},{"s":"Unmasked Cassette","t":"2003-09-27T06:00","v":2.53},{"s":"Unmasked Cassette","t":"2003-09-27T12:15","v":2.50},{"s":"Unmasked Cassette","t":"2003-09-27T18:30","v":2.47},{"s":"Unmasked Cassette","t":"2003-09-27T23:15","v":2.52},
      {"s":"Unmasked Cassette","t":"2003-09-28T07:00","v":2.56},{"s":"Unmasked Cassette","t":"2003-09-28T11:45","v":2.48},{"s":"Unmasked Cassette","t":"2003-09-28T18:00","v":2.43},
      {"s":"Unmasked Cassette","t":"2003-09-29T02:00","v":2.46},{"s":"Unmasked Cassette","t":"2003-09-29T08:15","v":2.53},{"s":"Unmasked Cassette","t":"2003-09-29T14:30","v":2.57},{"s":"Unmasked Cassette","t":"2003-09-29T19:15","v":2.64},{"s":"Unmasked Cassette","t":"2003-09-30T00:00","v":2.70}
    ]
  },
  "concat": [
    {
      "width": 927,
      "height": 568,
      "title": {"text": "A)", "orient": "left", "anchor": "end", "frame": "group", "angle": 0, "align": "left", "baseline": "top", "dy": -4, "font": "Liberation Serif", "fontSize": 32, "fontWeight": "bold", "color": "black", "offset": 0.85},
      "encoding": {
        "x": {"field": "t", "type": "temporal", "title": "Date",
          "scale": {"domain": [{"year": 2003, "month": 9, "date": 12}, {"year": 2003, "month": 9, "date": 30}], "nice": false},
          "axis": {"values": [{"year": 2003, "month": 9, "date": 12}, {"year": 2003, "month": 9, "date": 15}, {"year": 2003, "month": 9, "date": 18}, {"year": 2003, "month": 9, "date": 21}, {"year": 2003, "month": 9, "date": 24}, {"year": 2003, "month": 9, "date": 27}, {"year": 2003, "month": 9, "date": 30}],
            "format": "%-m/%-d/%y", "labelExpr": "date(datum.value) == 30 ? '' : datum.label",
            "labelFlush": false, "labelOverlap": false, "labelBound": false, "labelPadding": 20, "titlePadding": 15, "grid": true}}
      },
      "layer": [
        {
          "data": {"name": "flow"},
          "mark": {"type": "line"},
          "encoding": {
            "y": {"field": "v", "type": "quantitative", "title": "Volumetric Flowrate (L/min)",
              "scale": {"domain": [18, 30], "nice": false, "zero": false},
              "axis": {"values": [18, 20, 22, 24, 26, 28, 30], "format": "d", "labelPadding": 15, "titlePadding": 28.5, "grid": true}},
            "color": {"field": "s", "type": "nominal",
              "scale": {"domain": ["Masked Cassette", "Unmasked Cassette", "Temp (K)"], "range": ["#003300", "#ff00ff", "#ff9900"]},
              "legend": {"legendX": 69, "legendY": -66}}
          }
        },
        {
          "data": {"name": "temp"},
          "mark": {"type": "line"},
          "encoding": {
            "y": {"field": "v", "type": "quantitative", "title": "Temperature (K)",
              "scale": {"domain": [250, 310], "nice": false, "zero": false},
              "axis": {"orient": "right", "values": [250, 260, 270, 280, 290, 300, 310], "labelPadding": 13, "titlePadding": 40, "titleAngle": 270, "titleBaseline": "top", "grid": false}},
            "color": {"field": "s", "type": "nominal"}
          }
        }
      ],
      "resolve": {"scale": {"y": "independent"}}
    },
    {
      "width": 919,
      "height": 576,
      "title": {"text": "B)", "orient": "left", "anchor": "end", "frame": "group", "angle": 0, "align": "left", "baseline": "top", "dy": -43, "font": "Liberation Serif", "fontSize": 32, "fontWeight": "bold", "color": "black", "offset": 1.4},
      "encoding": {
        "x": {"field": "t", "type": "temporal", "title": "Date",
          "scale": {"domain": [{"year": 2003, "month": 9, "date": 12}, {"year": 2003, "month": 9, "date": 30}], "nice": false},
          "axis": {"values": [{"year": 2003, "month": 9, "date": 12}, {"year": 2003, "month": 9, "date": 15}, {"year": 2003, "month": 9, "date": 18}, {"year": 2003, "month": 9, "date": 21}, {"year": 2003, "month": 9, "date": 24}, {"year": 2003, "month": 9, "date": 27}, {"year": 2003, "month": 9, "date": 30}],
            "format": "%-m/%-d/%y", "labelExpr": "date(datum.value) == 30 ? '' : datum.label",
            "labelFlush": false, "labelOverlap": false, "labelBound": false, "labelPadding": 20, "titlePadding": 8, "grid": true}}
      },
      "layer": [
        {
          "data": {"name": "cut"},
          "mark": {"type": "line"},
          "encoding": {
            "y": {"field": "v", "type": "quantitative", "title": "Cutpoint, um",
              "scale": {"domain": [2, 5], "nice": false, "zero": false},
              "axis": {"values": [2, 2.5, 3, 3.5, 4, 4.5, 5], "format": ".1f", "labelPadding": 15, "titlePadding": 33, "grid": true}},
            "color": {"field": "s", "type": "nominal",
              "scale": {"domain": ["Masked Cassette", "Unmasked Cassette", "Temp (K)"], "range": ["#008000", "#800080", "#ff9900"]},
              "legend": {"legendX": 62, "legendY": -66}}
          }
        },
        {
          "data": {"name": "temp"},
          "mark": {"type": "line"},
          "encoding": {
            "y": {"field": "v", "type": "quantitative", "title": "Temperature (K)",
              "scale": {"domain": [250, 310], "nice": false, "zero": false},
              "axis": {"orient": "right", "values": [250, 260, 270, 280, 290, 300, 310], "labelPadding": 13, "titlePadding": 24, "titleAngle": 270, "titleBaseline": "top", "grid": false}},
            "color": {"field": "s", "type": "nominal"}
          }
        }
      ],
      "resolve": {"scale": {"y": "independent"}}
    }
  ]
}
